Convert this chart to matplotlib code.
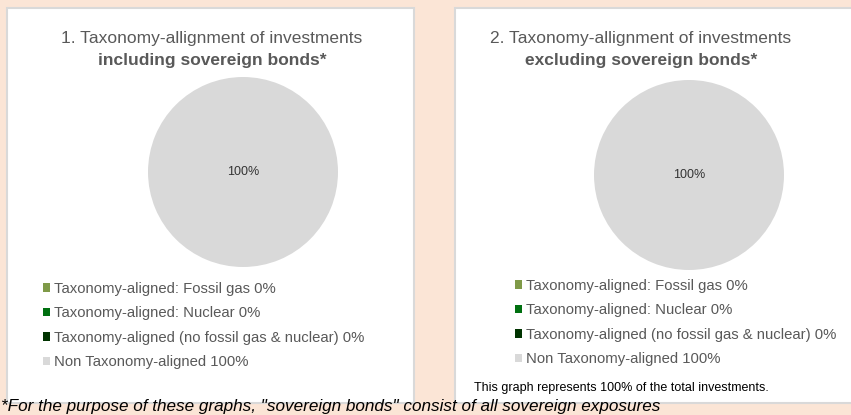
import matplotlib
matplotlib.use("Agg")
import matplotlib.pyplot as plt
from matplotlib.patches import Rectangle, Patch

plt.rcParams['font.family'] = ['Liberation Sans', 'DejaVu Sans']

# data
categories = ["Taxonomy-aligned: Fossil gas",
              "Taxonomy-aligned: Nuclear",
              "Taxonomy-aligned (no fossil gas & nuclear)",
              "Non Taxonomy-aligned"]
incl_values = [0, 0, 0, 100]
excl_values = [0, 0, 0, 100]
colors = ["#7F9A48", "#007010", "#003300", "#D9D9D9"]
titles = [("1. Taxonomy-allignment of investments", "including sovereign bonds*"),
          ("2. Taxonomy-allignment of investments", "excluding sovereign bonds*")]
note = "This graph represents 100% of the total investments."
footnote = '*For the purpose of these graphs, "sovereign bonds" consist of all sovereign exposures'

W, H = 851, 415
fig = plt.figure(figsize=(W / 100, H / 100), dpi=100, facecolor="#FBE5D6")

def px(x, y, w=0, h=0):
    # pixel box (top-left origin) -> figure fraction
    return [x / W, 1 - (y + h) / H, w / W, h / H]

# white panels
for (x0, y0, w, h) in [(7, 8, 407, 395), (455, 8, 410, 395)]:
    fig.patches.append(Rectangle((x0 / W, 1 - (y0 + h) / H), w / W, h / H,
                                 transform=fig.transFigure, facecolor="white",
                                 edgecolor="#D9D9D9", lw=1.5, zorder=-5))

panels = [
    dict(vals=incl_values, title=titles[0], tx=212, pie=(148, 77, 190), leg=(43, 282)),
    dict(vals=excl_values, title=titles[1], tx=641, pie=(594, 80, 190), leg=(515, 279)),
]

for p in panels:
    x, y, d = p["pie"]
    ax = fig.add_axes(px(x, y, d, d))
    ax.set_zorder(2)
    ax.patch.set_alpha(0)
    wedges, texts, autotexts = ax.pie(
        p["vals"], colors=colors, startangle=90, counterclock=False,
        autopct=lambda v: f"{v:.0f}%" if v > 0 else "", pctdistance=0,
        textprops=dict(fontsize=9, color="#333333"))
    ax.set_xlim(-1, 1)
    ax.set_ylim(-1, 1)

    t1, t2 = p["title"]
    fig.text(p["tx"] / W, 1 - 38 / H, t1, ha="center", va="center",
             fontsize=12.5, color="#595959")
    fig.text(p["tx"] / W, 1 - 60 / H, t2, ha="center", va="center",
             fontsize=12.5, color="#595959", fontweight="bold")

    handles = [Patch(facecolor=c, edgecolor="none") for c in colors]
    labels = [f"{c} {v}%" for c, v in zip(categories, p["vals"])]
    lx, ly = p["leg"]
    fig.legend(handles, labels, loc="upper left",
               bbox_to_anchor=(lx / W, 1 - ly / H), frameon=False,
               fontsize=10.7, labelcolor="#595959", handlelength=0.5,
               handleheight=0.5, handletextpad=0.25, labelspacing=0.7,
               borderpad=0, borderaxespad=0)

fig.text(474 / W, 1 - 388 / H, note, ha="left", va="center", fontsize=9, color="black")
fig.text(1 / W, 1 - 411 / H, footnote, ha="left", va="baseline",
         fontsize=12.3, style="italic", color="black", zorder=10)

fig.savefig("out.png", dpi=100, facecolor=fig.get_facecolor())
